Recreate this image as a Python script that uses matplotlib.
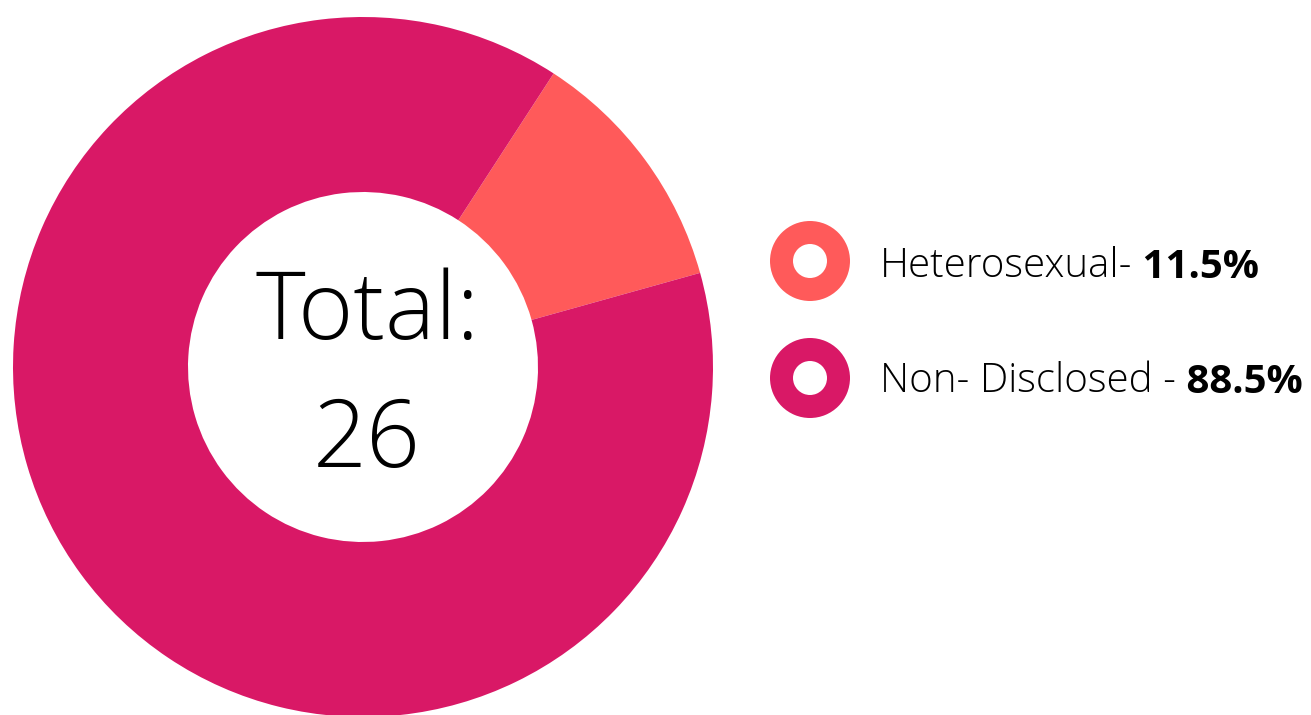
import matplotlib
matplotlib.use("Agg")
import matplotlib.pyplot as plt
from matplotlib.patches import Wedge

labels = ["Heterosexual-", "Non- Disclosed -"]
shares = [11.5, 88.5]
pct_text = ["11.5%", "88.5%"]
total = 26
colors = ["#FF5A5A", "#D91866"]

W, H = 1311, 715
fig = plt.figure(figsize=(W / 100, H / 100), dpi=100)
ax = fig.add_axes([0, 0, 1, 1])

# donut
cx, cy, r = 363, H - 367, 350
ax.pie(shares, colors=colors, startangle=57, counterclock=False,
       center=(cx, cy), radius=r, frame=True,
       wedgeprops=dict(width=r / 2, linewidth=0))
ax.set_xlim(0, W)
ax.set_ylim(0, H)
ax.set_aspect("auto")
ax.axis("off")

ax.text(367, H - 339, "Total:", ha="center", va="baseline", fontsize=68,
        family="Open Sans", fontweight="light")
ax.text(367, H - 467, str(total), ha="center", va="baseline", fontsize=68,
        family="Open Sans", fontweight="light")

# legend
for i, (lab, pct, col) in enumerate(zip(labels, pct_text, colors)):
    my = H - (261 + i * 117)
    ax.add_patch(Wedge((810, my), 40, 0, 360, width=23, color=col, lw=0))
    t = ax.text(880, H - (277 + i * 115), lab, ha="left", va="baseline",
                fontsize=29, family="Open Sans", fontweight="light")
    ax.annotate(" " + pct, xy=(1, 0), xycoords=t, ha="left", va="bottom",
                fontsize=29, family="Open Sans", fontweight="bold")

fig.savefig("out.png", dpi=100)
